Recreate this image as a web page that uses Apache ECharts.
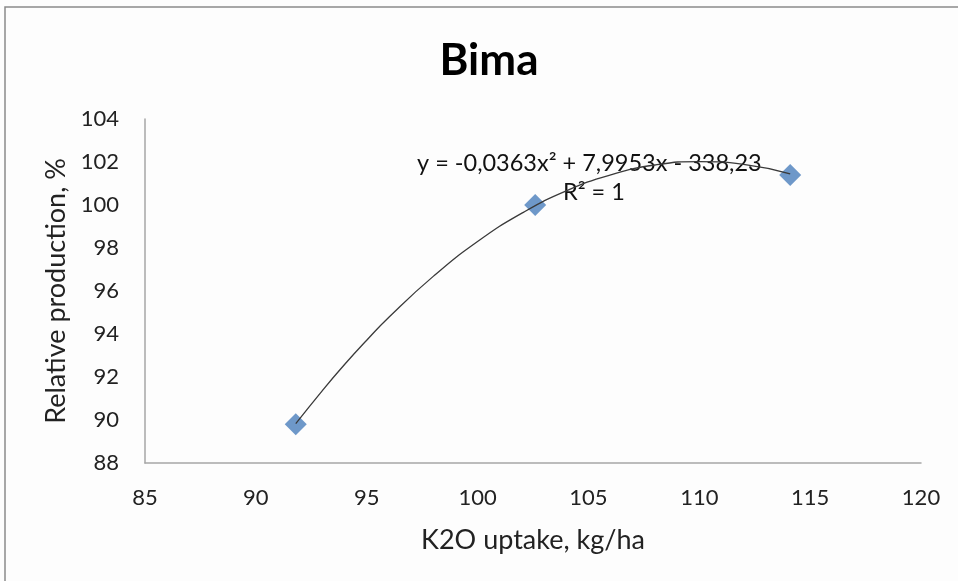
<!DOCTYPE html>
<html>
<head>
<meta charset="utf-8">
<script src="https://cdn.jsdelivr.net/npm/echarts@6/dist/echarts.min.js"></script>
<style>
html,body{margin:0;padding:0;background:#fdfdfd;}
#c{width:958px;height:581px;}
</style>
</head>
<body>
<div id="c"></div>
<script>
// Data
var uptake = [91.8, 102.6, 114.1];          // K2O uptake, kg/ha
var production = [89.8, 100.0, 101.4];      // Relative production, %
// Trendline readings (polynomial fit drawn in chart)
var trendX = [91.8, 93, 94, 95, 96, 98, 100, 102, 104, 106, 108, 110, 112, 114.1];
var trendY = [89.83, 91.37, 92.58, 93.71, 94.78, 96.68, 98.30, 99.62, 100.66, 101.40, 101.86, 102.02, 101.89, 101.45];
var chartTitle = 'Bima';
var xName = 'K2O uptake, kg/ha';
var yName = 'Relative production, %';
var eqLine1 = 'y = -0,0363x\u00B2 + 7,9953x - 338,23';
var eqLine2 = 'R\u00B2 = 1';

var font = 'Lato, "Open Sans", sans-serif';
var chart = echarts.init(document.getElementById('c'));
var pts = uptake.map(function(x,i){return [x, production[i]];});
var trend = trendX.map(function(x,i){return [x, trendY[i]];});

chart.setOption({
  backgroundColor: '#fdfdfd',
  animation: false,
  title: {
    text: chartTitle, left: 484, top: 34, textAlign: 'center',
    textStyle: {fontFamily: font, fontSize: 44, fontWeight: 'bold', color: '#000'}
  },
  grid: {left: 145, right: 37, top: 119, bottom: 118},
  xAxis: {
    type: 'value', min: 85, max: 120, interval: 5,
    name: xName, nameLocation: 'middle', nameGap: 64,
    nameTextStyle: {fontFamily: font, fontSize: 27, color: '#222'},
    axisLine: {show: true, lineStyle: {color: '#a6a6a6', width: 1.5}},
    axisTick: {show: false},
    splitLine: {show: false},
    axisLabel: {fontFamily: font, fontSize: 22, color: '#222', margin: 24}
  },
  yAxis: {
    type: 'value', min: 88, max: 104, interval: 2,
    name: yName, nameLocation: 'middle', nameGap: 73, nameRotate: 90,
    nameTextStyle: {fontFamily: font, fontSize: 27, color: '#222'},
    axisLine: {show: true, lineStyle: {color: '#a6a6a6', width: 1.5}},
    axisTick: {show: false},
    splitLine: {show: false},
    axisLabel: {fontFamily: font, fontSize: 22, color: '#222', margin: 26}
  },
  graphic: [
    {type: 'rect', shape: {x: 5, y: 7, width: 1000, height: 700}, z: -10,
     style: {fill: 'none', stroke: '#8a8a8a', lineWidth: 1.5}},
    {type: 'text', left: 417, top: 151, z: 1,
     style: {text: eqLine1, fontSize: 23.5, fontFamily: font, fill: '#111'}},
    {type: 'text', left: 563, top: 180, z: 1,
     style: {text: eqLine2, fontSize: 23.5, fontFamily: font, fill: '#111'}}
  ],
  series: [
    {
      type: 'line', data: trend, smooth: true, symbol: 'none', z: 3,
      lineStyle: {color: '#3a3a3a', width: 1.3}
    },
    {
      type: 'scatter', data: pts, symbol: 'diamond', symbolSize: [22, 22], z: 2,
      itemStyle: {color: '#4a7ebb'}
    }
  ]
});
</script>
</body>
</html>
